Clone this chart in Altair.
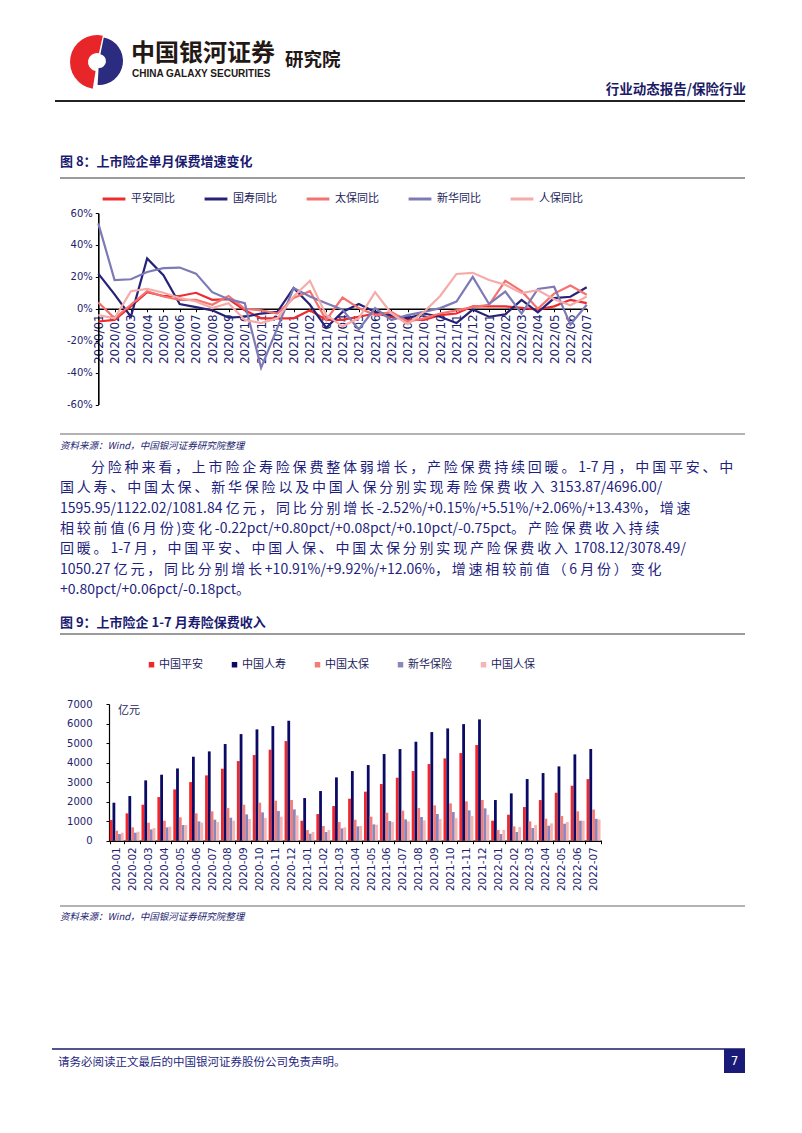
import altair as alt
import pandas as pd

CJK = "Noto Sans CJK SC"
LAT = "DejaVu Sans"
NAVY = "#1f1f78"
AXC = "#1d1d6e"
M = 8  # page margin

# ---------------- data ----------------
months1 = ["2020/01", "2020/02", "2020/03", "2020/04", "2020/05", "2020/06", "2020/07", "2020/08",
           "2020/09", "2020/10", "2020/11", "2020/12", "2021/01", "2021/02", "2021/03", "2021/04",
           "2021/05", "2021/06", "2021/07", "2021/08", "2021/09", "2021/10", "2021/11", "2021/12",
           "2022/01", "2022/02", "2022/03", "2022/04", "2022/05", "2022/06", "2022/07"]
names1 = ["平安同比", "国寿同比", "太保同比", "新华同比", "人保同比"]
colors1 = ["#EE2B2E", "#262277", "#F4726F", "#7D7AB6", "#F6ABA9"]
pingan_yoy = [-8, -7, 1.5, 10.4, 8, 8, 10, 5.6, 6, -1, -6, -6, -6, -1, -7, -7,
              -5, -3, -5, -7, -7, -4, -3, 1.5, 1.5, 1.5, 0.5, -0.5, 1.5, 5.6, 3.5]
guoshou_yoy = [22, 9, -5, 31.5, 21, 3, 1, -1, -5.5, -5, -3, -2, 13, 2.5, -12, -2,
               3, -2, -4, -6, -3, -5, -9, -0.5, -5, -3.5, 5.6, -2.3, 6.7, 7.5, 13.5]
taibao_yoy = [4, -6, 2.5, 11, 7.7, 5.6, 5.6, 2.5, 8, 0, -1, -3, 6.7, 11, -7, 7,
              0.4, -4, -2, -8, -6, -3, -1, 1, 2.5, 17.5, 11, 0, 9.5, 14.5, 8.8]
xinhua_yoy = [53.5, 18, 18.5, 23, 25.4, 25.8, 22, 10.4, 6, 3.5, -37, -12, 13, 7.7, 3.5, -0.5,
              -13, 0.4, -7, -4, -2, 0.4, 4.5, 20, 3, 10.8, -3, 12.4, 13.8, -10, 2.5]
renbao_yoy = [-4, -6, 11, 12.5, 10, 6.7, 4.6, 0.4, 3.5, -7, -9, -6, 7.7, 17.5, -4, -11,
              -6, 10.4, -3, -9.6, -2, 8, 21.8, 22.5, 18, 15, 9.8, 11.7, 6, 2.2, 7.7]

months2 = ["2020-01", "2020-02", "2020-03", "2020-04", "2020-05", "2020-06", "2020-07", "2020-08",
           "2020-09", "2020-10", "2020-11", "2020-12", "2021-01", "2021-02", "2021-03", "2021-04",
           "2021-05", "2021-06", "2021-07", "2021-08", "2021-09", "2021-10", "2021-11", "2021-12",
           "2022-01", "2022-02", "2022-03", "2022-04", "2022-05", "2022-06", "2022-07"]
names2 = ["中国平安", "中国人寿", "中国太保", "新华保险", "中国人保"]
colors2 = ["#F0282D", "#0B0B66", "#F27C78", "#8A86BC", "#F6B4B3"]
pingan_prem = [1058, 1400, 1843, 2235, 2628, 3003, 3345, 3686, 4078, 4386, 4659, 5102,
               1024, 1365, 1775, 2150, 2509, 2901, 3225, 3567, 3925, 4215, 4488, 4898,
               1024, 1331, 1724, 2082, 2457, 2816, 3154]
renshou_prem = [1945, 2287, 3090, 3380, 3700, 4300, 4573, 4950, 5460, 5700, 5870, 6143,
                2184, 2543, 3242, 3567, 3874, 4437, 4693, 5068, 5563, 5750, 5970, 6212,
                2082, 2423, 3157, 3464, 3805, 4420, 4696]
taibao_prem = [512, 683, 922, 1024, 1195, 1400, 1502, 1672, 1843, 1945, 2048, 2082,
               546, 751, 956, 1075, 1229, 1433, 1536, 1672, 1809, 1911, 2014, 2082,
               546, 734, 990, 1126, 1263, 1502, 1596]
xinhua_prem = [341, 410, 580, 683, 802, 990, 1075, 1178, 1348, 1450, 1519, 1604,
               358, 444, 631, 734, 836, 1007, 1092, 1212, 1365, 1468, 1553, 1655,
               341, 444, 648, 768, 870, 1024, 1122]
renbao_prem = [410, 460, 648, 717, 802, 922, 956, 1024, 1109, 1160, 1229, 1297,
               444, 546, 683, 751, 819, 956, 990, 1041, 1109, 1160, 1263, 1331,
               546, 700, 802, 887, 956, 1024, 1082]

para_lines = [
    "分险种来看，上市险企寿险保费整体弱增长，产险保费持续回暖。1-7 月，中国平安、中",
    "国人寿、中国太保、新华保险以及中国人保分别实现寿险保费收入 3153.87/4696.00/",
    "1595.95/1122.02/1081.84 亿元，同比分别增长-2.52%/+0.15%/+5.51%/+2.06%/+13.43%，增速",
    "相较前值(6 月份)变化-0.22pct/+0.80pct/+0.08pct/+0.10pct/-0.75pct。产险保费收入持续",
    "回暖。1-7 月，中国平安、中国人保、中国太保分别实现产险保费收入 1708.12/3078.49/",
    "1050.27 亿元，同比分别增长+10.91%/+9.92%/+12.06%，增速相较前值（6 月份）变化",
    "+0.80pct/+0.06pct/-0.18pct。",
]

series1 = [pingan_yoy, guoshou_yoy, taibao_yoy, xinhua_yoy, renbao_yoy]
df1 = pd.DataFrame([
    {"month": m, "series": n, "value": v}
    for n, vals in zip(names1, series1) for m, v in zip(months1, vals)
])
series2 = [pingan_prem, renshou_prem, taibao_prem, xinhua_prem, renbao_prem]
df2 = pd.DataFrame([
    {"month": m, "series": n, "value": v}
    for n, vals in zip(names2, series2) for m, v in zip(months2, vals)
])

W, H = 786, 1117


def one():
    return pd.DataFrame({"t": [""]})


def txt(s, x, y, size, color=NAVY, weight="normal", align="left", font=CJK, style="normal"):
    return alt.Chart(pd.DataFrame({"t": [s]})).mark_text(
        align=align, baseline="middle", fontSize=size, font=font,
        fontWeight=weight, fontStyle=style, color=color
    ).encode(x=alt.value(x - M), y=alt.value(y - M), text="t:N")


def hrule(x1, x2, y, color, width):
    return alt.Chart(one()).mark_rule(color=color, strokeWidth=width).encode(
        x=alt.value(x1 - M), x2=alt.value(x2 - M), y=alt.value(y - M))


def spaced(s):
    out = []
    for i, ch in enumerate(s):
        out.append(ch)
        if i < len(s) - 1 and ord(ch) > 0x2E80:
            out.append("\u2009")
    return "".join(out)


layers = []

# ---------- header ----------
layers.append(alt.Chart(one()).mark_arc(theta=3.3, theta2=6.5, radius=27, radius2=9, color="#E8262A")
              .encode(x=alt.value(97 - M), y=alt.value(62 - M)))
layers.append(alt.Chart(one()).mark_arc(theta=0.2, theta2=3.2, radius=24, radius2=7, color="#2B2B80")
              .encode(x=alt.value(99 - M), y=alt.value(61 - M)))
layers.append(txt("中国银河证券", 131, 54, 24, color="#231815", weight="bold"))
layers.append(txt("CHINA GALAXY SECURITIES", 132, 74, 10, color="#231815", weight="bold", font="Liberation Sans"))
layers.append(txt("研究院", 285, 60, 18.5, color="#231815", weight="bold"))
layers.append(txt("行业动态报告/保险行业", 746, 90, 13.5, color="#1a1a66", weight="bold", align="right"))
layers.append(hrule(55, 745, 101, "#222222", 1.8))

# ---------- figure 8 ----------
layers.append(txt("图 8：上市险企单月保费增速变化", 60, 162, 13, color="#1a1a70", weight="bold"))
layers.append(hrule(60, 745, 178, "#7a7a7a", 1.4))

zero_y = 308.75 - M
lines = alt.Chart(df1).mark_line(strokeWidth=2.2).encode(
    x=alt.X("month:N", sort=months1,
            scale=alt.Scale(type="point", range=[98.3 - M, 586.7 - M], padding=0),
            axis=alt.Axis(orient="bottom", offset=zero_y - H, labelAngle=270, labelFontSize=12,
                          labelFont=LAT, labelColor=AXC, tickSize=3, labelPadding=2,
                          domainColor="black", domainWidth=1.6, tickColor="black",
                          labelOverlap=False, title=None, grid=False)),
    y=alt.Y("value:Q",
            scale=alt.Scale(domain=[-60, 60], range=[404.5 - M, 213 - M], nice=False, zero=False),
            axis=alt.Axis(orient="left", offset=-(98.3 - M), values=[-60, -40, -20, 0, 20, 40, 60],
                          labelExpr="datum.value + '%'", labelFontSize=10, labelFont=LAT,
                          labelColor=AXC, tickSize=3, labelPadding=3, domainColor="black",
                          domainWidth=1.6, tickColor="black", title=None, grid=False)),
    color=alt.Color("series:N", sort=names1,
                    scale=alt.Scale(domain=names1, range=colors1),
                    legend=alt.Legend(orient="none", legendX=101 - M, legendY=186 - M,
                                      direction="horizontal", title=None, symbolType="stroke",
                                      symbolSize=520, symbolStrokeWidth=3, labelFont=CJK,
                                      labelFontSize=11, labelColor="#1c1c5c", labelOffset=4,
                                      columnPadding=23)),
)
layers.append(lines)

layers.append(hrule(60, 745, 434, "#9a9a9a", 1.4))
layers.append(txt("资料来源：Wind，中国银河证券研究院整理", 60, 446, 9.5, color="#1a1a70", style="italic"))

# ---------- paragraph ----------
pitch = 20.3
for k, line in enumerate(para_lines):
    x0 = 91 if k == 0 else 60
    layers.append(txt(spaced(line), x0, 468 + k * pitch, 14, color="#1f1f80"))

# ---------- figure 9 ----------
layers.append(txt("图 9：上市险企 1-7 月寿险保费收入", 60, 623, 13, color="#1a1a70", weight="bold"))
layers.append(hrule(60, 745, 634, "#7a7a7a", 1.4))

base2 = 840.7 - M
bars = alt.Chart(df2).mark_bar().encode(
    x=alt.X("month:N", sort=months2,
            scale=alt.Scale(type="band", range=[108.75 - M, 601.5 - M], paddingInner=0.12, paddingOuter=0.06),
            axis=alt.Axis(orient="bottom", offset=base2 - H, labelAngle=270, labelFontSize=10.5,
                          labelFont=LAT, labelColor=AXC, tickSize=3, labelPadding=3, tickBand="extent",
                          domainColor="black", domainWidth=1.4, tickColor="black",
                          labelOverlap=False, title=None, grid=False)),
    xOffset=alt.XOffset("series:N", sort=names2,
                        scale=alt.Scale(domain=names2, paddingInner=0, paddingOuter=0)),
    y=alt.Y("value:Q",
            scale=alt.Scale(domain=[0, 7000], range=[base2, 704 - M], nice=False),
            axis=alt.Axis(orient="left", offset=-(109 - M), values=[0, 1000, 2000, 3000, 4000, 5000, 6000, 7000],
                          format="d", labelFontSize=10, labelFont=LAT, labelColor=AXC, tickSize=3,
                          labelPadding=14, domainColor="black", domainWidth=1.2, tickColor="black",
                          title=None, grid=False)),
    color=alt.Color("series:N", sort=names2,
                    scale=alt.Scale(domain=names2, range=colors2),
                    legend=alt.Legend(orient="none", legendX=146 - M, legendY=659 - M,
                                      direction="horizontal", title=None, symbolType="square",
                                      symbolSize=30, labelFont=CJK, labelFontSize=11,
                                      labelColor="#1c1c5c", labelOffset=2, columnPadding=26)),
)
layers.append(bars)
layers.append(txt("亿元", 118, 711, 11, color="#1c1c5c"))

layers.append(hrule(60, 745, 906, "#9a9a9a", 1.4))
layers.append(txt("资料来源：Wind，中国银河证券研究院整理", 60, 917, 9.5, color="#1a1a70", style="italic"))

# ---------- footer ----------
layers.append(hrule(52, 745, 1049, "#1a1a70", 1.6))
layers.append(txt("请务必阅读正文最后的中国银河证券股份公司免责声明。", 58, 1063, 11.5, color="#1f1f80"))
layers.append(alt.Chart(one()).mark_rect(color="#1a1a78").encode(
    x=alt.value(724 - M), x2=alt.value(745 - M), y=alt.value(1049 - M), y2=alt.value(1073 - M)))
layers.append(txt("7", 734.5, 1061, 12, color="white", align="center", font=LAT))

chart = alt.layer(*layers).resolve_scale(
    x="independent", y="independent", color="independent"
).properties(
    width=W, height=H, padding=0, autosize=alt.AutoSizeParams(type="none"), background="white"
).configure_view(strokeWidth=0)

chart.save("out.html", embed_options={"renderer": "svg", "actions": False})
